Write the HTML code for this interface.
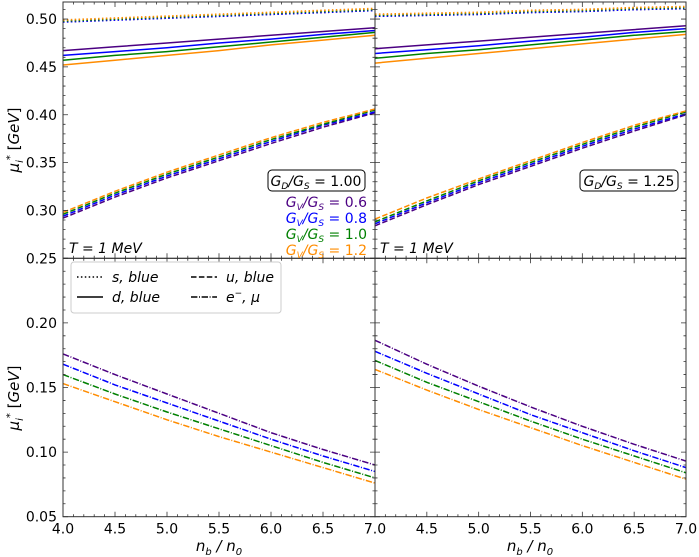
<!DOCTYPE html>
<html><head><meta charset="utf-8"><style>
body{margin:0;background:#fff}
svg{display:block;font-family:"DejaVu Sans","Liberation Sans",sans-serif}
</style></head><body>
<svg id="c" width="699" height="557"></svg>
<script>
const xs=[4,4.5,5,5.5,6,6.5,7];
const colors=["#4b0082","#0000ff","#008000","#ff8c00"];
const gvLabels=["0.6","0.8","1.0","1.2"];
// panel A (GD/GS=1.00)
const sA=[[0.497,0.499,0.501,0.503,0.505,0.507,0.509],[0.497,0.499,0.501,0.503,0.505,0.507,0.509],[0.498,0.500,0.502,0.504,0.506,0.508,0.510],[0.499,0.501,0.503,0.505,0.507,0.509,0.511]];
const dA=[[0.467,0.471,0.475,0.479,0.483,0.487,0.491],[0.462,0.466,0.470,0.475,0.479,0.484,0.488],[0.457,0.462,0.466,0.471,0.476,0.481,0.486],[0.452,0.457,0.462,0.467,0.473,0.478,0.483]];
const uA=[[0.292,0.314,0.334,0.352,0.370,0.387,0.402],[0.294,0.316,0.336,0.354,0.372,0.389,0.403],[0.296,0.318,0.338,0.356,0.374,0.390,0.405],[0.298,0.320,0.340,0.358,0.376,0.392,0.406]];
const eA=[[0.176,0.160,0.145,0.130,0.115,0.102,0.090],[0.168,0.152,0.138,0.124,0.110,0.097,0.085],[0.160,0.145,0.131,0.118,0.105,0.092,0.080],[0.153,0.139,0.125,0.112,0.100,0.088,0.076]];
// panel B (GD/GS=1.25)
const sB=[[0.503,0.504,0.505,0.507,0.508,0.510,0.511],[0.503,0.504,0.505,0.507,0.508,0.510,0.511],[0.504,0.505,0.506,0.508,0.509,0.511,0.512],[0.505,0.506,0.507,0.509,0.510,0.512,0.513]];
const dB=[[0.469,0.473,0.477,0.481,0.485,0.489,0.493],[0.464,0.468,0.472,0.477,0.481,0.486,0.490],[0.459,0.464,0.468,0.473,0.478,0.483,0.487],[0.454,0.459,0.464,0.469,0.474,0.479,0.484]];
const uB=[[0.284,0.306,0.327,0.346,0.365,0.383,0.400],[0.286,0.308,0.329,0.348,0.367,0.385,0.401],[0.288,0.310,0.331,0.350,0.369,0.387,0.403],[0.291,0.313,0.333,0.352,0.371,0.389,0.404]];
const eB=[[0.1865,0.168,0.151,0.135,0.120,0.106,0.093],[0.178,0.161,0.145,0.129,0.115,0.101,0.088],[0.171,0.154,0.139,0.124,0.110,0.097,0.084],[0.164,0.148,0.133,0.119,0.105,0.092,0.079]];
const xTicks=["4.0","4.5","5.0","5.5","6.0","6.5","7.0"];
const xTicksRight=["4.5","5.0","5.5","6.0","6.5","7.0"];
const yTopTicks=["0.25","0.30","0.35","0.40","0.45","0.50"];
const yBotTicks=["0.05","0.10","0.15","0.20"];

const NS="http://www.w3.org/2000/svg";
const svg=document.getElementById('c');
function el(t,a,p){const e=document.createElementNS(NS,t);for(const k in a)e.setAttribute(k,a[k]);(p||svg).appendChild(e);return e;}
const L=[63,375],R=[375,686];
const topP=[2,258.3],botP=[258.3,516.7];
function sx(p,v){return p[0]+(v-4)/3*(p[1]-p[0]);}
function syT(v){return 258.3-(v-0.25)/0.05*47.85;}
function syB(v){return 516.7-(v-0.05)/0.05*64.6;}
const styles={s:"1.5 2.4",d:"",u:"5.5 2.4",e:"6.4 1.6 1 1.6"};
function series(px,sy,data,kind,name){
  data.forEach((arr,i)=>{
    const pts=arr.map((v,j)=>sx(px,xs[j]).toFixed(1)+","+sy(v).toFixed(1));
    const p=el('polyline',{points:pts.join(" "),fill:"none",stroke:colors[i],'stroke-width':kind==='s'?1.8:1.5});
    if(styles[kind])p.setAttribute('stroke-dasharray',styles[kind]);
    
    
  });
}
function frame(px,py,name){
  const r=el('rect',{x:px[0],y:py[0],width:px[1]-px[0],height:py[1]-py[0],fill:"none",stroke:"#333",'stroke-width':1});
  
  
}
function ticks(px,py,sy,lo,hi,maj,minStep,showY,xLabels,yLabels){
  let d="";
  for(let v=4;v<=7.0001;v+=0.1){const x=sx(px,v);const m=Math.abs(v*2-Math.round(v*2))<0.01;const len=m?5:2.5;
    d+=`M${x} ${py[1]}v${-len}M${x} ${py[0]}v${len}`;}
  for(let v=lo;v<=hi+1e-6;v+=minStep){const y=sy(v);if(y<py[0]-0.5)continue;const m=Math.abs(v/maj-Math.round(v/maj))<0.01;const len=m?5:2.5;
    d+=`M${px[0]} ${y}h${len}M${px[1]} ${y}h${-len}`;}
  el('path',{d:d,stroke:"#333",'stroke-width':0.8,fill:"none"});
  if(showY)yLabels.forEach(t=>{const e=el('text',{x:px[0]-6,y:sy(+t)+5,'text-anchor':'end','font-size':14});e.textContent=t;
    
    });
  if(xLabels)xLabels.forEach(t=>{const e=el('text',{x:sx(px,+t),y:py[1]+17,'text-anchor':'middle','font-size':14});e.textContent=t;
    
    });
}
series(L,syT,sA,'s','top-left');series(L,syT,dA,'d','top-left');series(L,syT,uA,'u','top-left');
series(R,syT,sB,'s','top-right');series(R,syT,dB,'d','top-right');series(R,syT,uB,'u','top-right');
series(L,syB,eA,'e','bottom-left');series(R,syB,eB,'e','bottom-right');
ticks(L,topP,syT,0.25,0.52,0.05,0.01,true,null,yTopTicks);
ticks(R,topP,syT,0.25,0.52,0.05,0.01,false,null,yTopTicks);
ticks(L,botP,syB,0.05,0.25,0.05,0.01,true,xTicks,yBotTicks);
ticks(R,botP,syB,0.05,0.25,0.05,0.01,false,xTicksRight,yBotTicks);
frame(L,topP,'top-left');frame(R,topP,'top-right');frame(L,botP,'bottom-left');frame(R,botP,'bottom-right');
</script>
<svg width="699" height="557" style="position:absolute;left:0;top:0;font-family:'DejaVu Sans','Liberation Sans',sans-serif">
  <text transform="translate(19,140) rotate(-90)" text-anchor="middle" font-size="15" font-style="italic">μ<tspan font-size="10" dy="4">i</tspan><tspan font-size="10" dy="-10">*</tspan><tspan dy="6" font-style="normal"> [</tspan>GeV<tspan font-style="normal">]</tspan></text>
  <text transform="translate(19,398) rotate(-90)" text-anchor="middle" font-size="15" font-style="italic">μ<tspan font-size="10" dy="4">i</tspan><tspan font-size="10" dy="-10">*</tspan><tspan dy="6" font-style="normal"> [</tspan>GeV<tspan font-style="normal">]</tspan></text>
  <text x="219" y="551" text-anchor="middle" font-size="15" font-style="italic">n<tspan font-size="10" dy="4">b</tspan><tspan dy="-4"> / n</tspan><tspan font-size="10" dy="4">0</tspan></text>
  <text x="530" y="551" text-anchor="middle" font-size="15" font-style="italic">n<tspan font-size="10" dy="4">b</tspan><tspan dy="-4"> / n</tspan><tspan font-size="10" dy="4">0</tspan></text>
  <rect x="268" y="170" width="97" height="21" rx="4" fill="#fff" stroke="#000"/>
  <text x="316" y="186" text-anchor="middle" font-size="14"><tspan font-style="italic">G<tspan font-size="9" dy="3">D</tspan><tspan dy="-3">/G</tspan><tspan font-size="9" dy="3">S</tspan></tspan><tspan dy="-3"> = 1.00</tspan></text>
  <rect x="580" y="170" width="98" height="21" rx="4" fill="#fff" stroke="#000"/>
  <text x="629" y="186" text-anchor="middle" font-size="14"><tspan font-style="italic">G<tspan font-size="9" dy="3">D</tspan><tspan dy="-3">/G</tspan><tspan font-size="9" dy="3">S</tspan></tspan><tspan dy="-3"> = 1.25</tspan></text>
  <g font-size="14" text-anchor="end">
    <text x="367" y="207" fill="#4b0082"><tspan font-style="italic">G<tspan font-size="9" dy="3">V</tspan><tspan dy="-3">/G</tspan><tspan font-size="9" dy="3">S</tspan></tspan><tspan dy="-3"> = 0.6</tspan></text>
    <text x="367" y="223" fill="#0000ff"><tspan font-style="italic">G<tspan font-size="9" dy="3">V</tspan><tspan dy="-3">/G</tspan><tspan font-size="9" dy="3">S</tspan></tspan><tspan dy="-3"> = 0.8</tspan></text>
    <text x="367" y="239" fill="#008000"><tspan font-style="italic">G<tspan font-size="9" dy="3">V</tspan><tspan dy="-3">/G</tspan><tspan font-size="9" dy="3">S</tspan></tspan><tspan dy="-3"> = 1.0</tspan></text>
    <text x="367" y="255" fill="#ff8c00"><tspan font-style="italic">G<tspan font-size="9" dy="3">V</tspan><tspan dy="-3">/G</tspan><tspan font-size="9" dy="3">S</tspan></tspan><tspan dy="-3"> = 1.2</tspan></text>
  </g>
  <text x="69" y="253" font-size="14" font-style="italic">T = 1 MeV</text>
  <text x="380" y="253" font-size="14" font-style="italic">T = 1 MeV</text>
  <g>
    <rect x="71" y="262" width="210" height="51" rx="3" fill="#fff" stroke="#ccc"/>
    <line x1="77" y1="277" x2="103" y2="277" stroke="#000" stroke-width="1.5" stroke-dasharray="1.5 2.4"/>
    <text x="112" y="282" font-size="14" font-style="italic">s, blue</text>
    <line x1="77" y1="297" x2="103" y2="297" stroke="#000" stroke-width="1.5"/>
    <text x="112" y="302" font-size="14" font-style="italic">d, blue</text>
    <line x1="191" y1="277" x2="217" y2="277" stroke="#000" stroke-width="1.5" stroke-dasharray="5.5 2.4"/>
    <text x="226" y="282" font-size="14" font-style="italic">u, blue</text>
    <line x1="191" y1="297" x2="217" y2="297" stroke="#000" stroke-width="1.5" stroke-dasharray="6.4 1.6 1 1.6"/>
    <text x="226" y="302" font-size="14" font-style="italic">e<tspan font-size="9" dy="-6">−</tspan><tspan dy="6">, μ</tspan></text>
  </g>
</svg>
</body></html>
